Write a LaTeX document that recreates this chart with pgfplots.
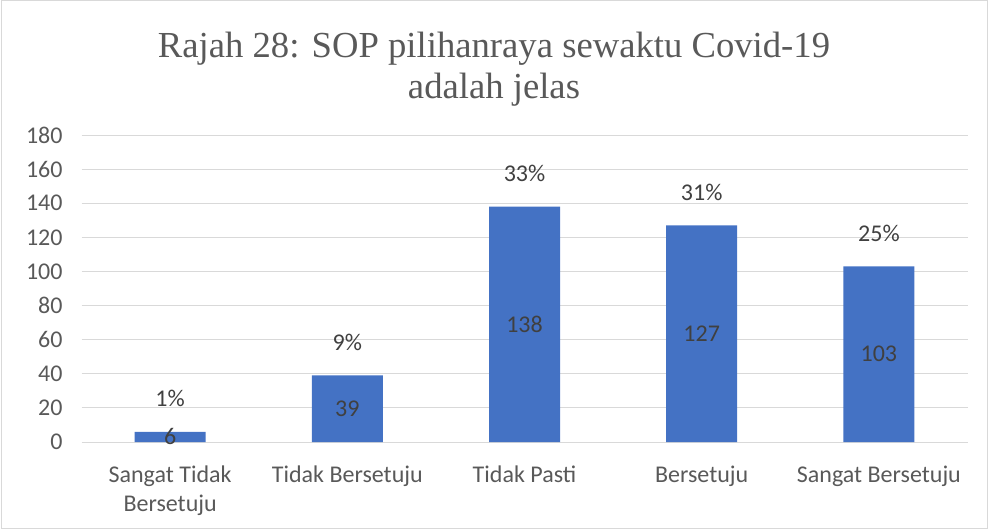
\documentclass[border=0pt]{standalone}
\usepackage{fontspec}
\setmainfont{Carlito}
\newfontfamily\titlefont{Liberation Serif}
\usepackage{pgfplots}
\pgfplotsset{compat=1.18}
\usepackage{pgfplotstable}
\definecolor{barblue}{HTML}{4472C4}
\definecolor{txt}{HTML}{595959}
\definecolor{lbl}{HTML}{404040}
\definecolor{gridc}{HTML}{D9D9D9}
\pgfplotstableread{
x v p
0 6 1
1 39 9
2 138 33
3 127 31
4 103 25
}\data
\begin{document}
\begin{tikzpicture}[x=0.75pt,y=0.75pt]
\useasboundingbox (0,0) rectangle (988,529);
\draw[color=gridc, line width=0.75pt] (1,1) rectangle (987,528);
\node[font=\titlefont\fontsize{27.5}{30.5}\selectfont, text=txt, align=center] at (494,459.5) {Rajah 28: SOP pilihanraya sewaktu Covid-19\\adalah jelas};
\begin{axis}[
  at={(61.125pt,65.25pt)}, anchor=south west,
  scale only axis, width=664.5pt, height=230.25pt,
  xmin=-0.5, xmax=4.5, ymin=0, ymax=180,
  ytick={0,20,...,180}, xtick={0,1,2,3,4},
  xticklabels={{Sangat Tidak\\Bersetuju},{Tidak Bersetuju},{Tidak Pasti},{Bersetuju},{Sangat Bersetuju}},
  xticklabel style={align=center, font=\fontsize{18}{21.75}\selectfont, text=txt, inner sep=0pt, yshift=-18pt},
  yticklabel style={font=\fontsize{18}{21.75}\selectfont, text=txt, inner sep=0pt, xshift=-14pt},
  /pgf/number format/assume math mode=true,
  ymajorgrids, grid style={color=gridc, line width=0.75pt},
  axis line style={draw=none}, major tick length=0pt,
  tick style={draw=none},
  clip=false,
]
\addplot[ybar, bar width=53.25pt, fill=barblue, draw=none,
  nodes near coords={\pgfmathprintnumber{\pgfplotspointmeta}\%}, point meta=explicit,
  nodes near coords style={anchor=center, yshift=24.75pt, font=\fontsize{18}{21.75}\selectfont, text=lbl}]
  table[x=x,y=v,meta=p]{\data};
\addplot[draw=none, mark=none,
  nodes near coords, point meta=explicit,
  nodes near coords style={anchor=center, font=\fontsize{18}{21.75}\selectfont, text=lbl}]
  table[x=x,y expr=\thisrow{v}/2,meta=v]{\data};
\end{axis}
\end{tikzpicture}
\end{document}
